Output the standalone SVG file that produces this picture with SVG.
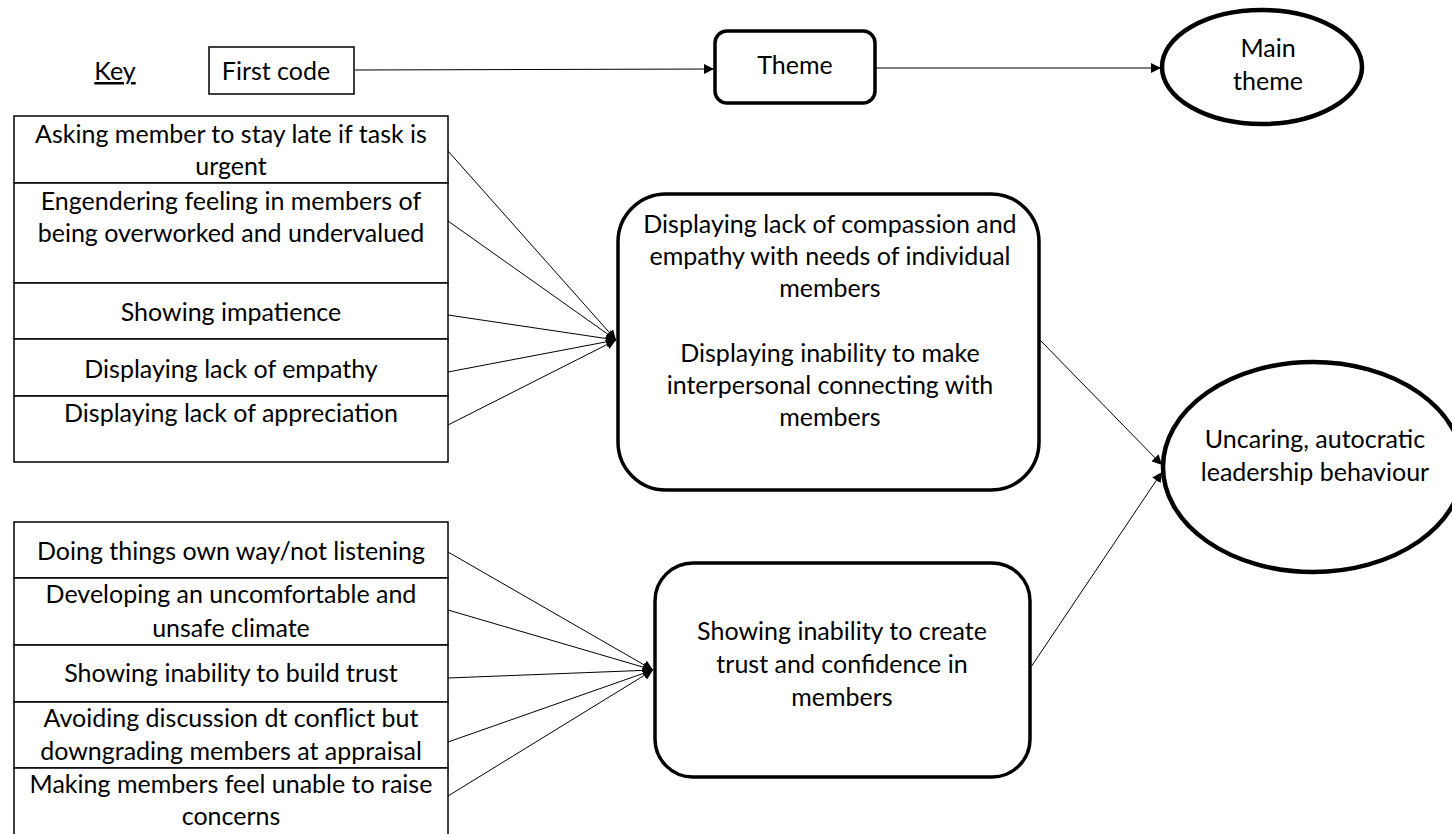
<svg xmlns="http://www.w3.org/2000/svg" width="1452" height="834" viewBox="0 0 1452 834">
  <style>
    text { font-family: Lato, "Liberation Sans", sans-serif; font-size: 25px; fill: #000; text-anchor: middle; }
    .code { fill: #fff; stroke: #000; stroke-width: 1.5; }
    .theme { fill: #fff; stroke: #000; stroke-width: 3.5; }
    .main { fill: #fff; stroke: #000; stroke-width: 4.5; }
    .link { stroke: #000; stroke-width: 1; fill: none; marker-end: url(#arrow); }
  </style>
  <defs>
    <marker id="arrow" viewBox="0 0 10 10" refX="10" refY="5" markerWidth="10" markerHeight="10" markerUnits="userSpaceOnUse" orient="auto">
      <path d="M0,0 L10,5 L0,10 Z" fill="#000"/>
    </marker>
  </defs>
  <rect width="1452" height="834" fill="#fff"/>

  <!-- legend -->
  <g id="key">
    <text x="115" y="80" text-decoration="underline">Key</text>
  </g>
  <g id="key-code">
    <rect class="code" x="209" y="47" width="145" height="47"/>
    <text x="276" y="80">First code</text>
  </g>
  <g id="key-theme">
    <rect class="theme" x="715" y="31" width="160" height="72" rx="12"/>
    <text x="795" y="74">Theme</text>
  </g>
  <g id="key-main">
    <ellipse class="main" cx="1262" cy="67" rx="100" ry="57"/>
    <text x="1268" y="57">Main</text>
    <text x="1268" y="90">theme</text>
  </g>

  <!-- first codes, upper group -->
  <g id="code-a1">
    <rect class="code" x="14" y="116" width="434" height="67"/>
    <text x="231" y="143">Asking member to stay late if task is</text>
    <text x="231" y="175">urgent</text>
  </g>
  <g id="code-a2">
    <rect class="code" x="14" y="183" width="434" height="100"/>
    <text x="231" y="210">Engendering feeling in members of</text>
    <text x="231" y="242">being overworked and undervalued</text>
  </g>
  <g id="code-a3">
    <rect class="code" x="14" y="283" width="434" height="56"/>
    <text x="231" y="321">Showing impatience</text>
  </g>
  <g id="code-a4">
    <rect class="code" x="14" y="339" width="434" height="57"/>
    <text x="231" y="378">Displaying lack of empathy</text>
  </g>
  <g id="code-a5">
    <rect class="code" x="14" y="396" width="434" height="66"/>
    <text x="231" y="422">Displaying lack of appreciation</text>
  </g>

  <!-- first codes, lower group -->
  <g id="code-b1">
    <rect class="code" x="14" y="522" width="434" height="56"/>
    <text x="231" y="560">Doing things own way/not listening</text>
  </g>
  <g id="code-b2">
    <rect class="code" x="14" y="578" width="434" height="67"/>
    <text x="231" y="603">Developing an uncomfortable and</text>
    <text x="231" y="637">unsafe climate</text>
  </g>
  <g id="code-b3">
    <rect class="code" x="14" y="645" width="434" height="57"/>
    <text x="231" y="682">Showing inability to build trust</text>
  </g>
  <g id="code-b4">
    <rect class="code" x="14" y="702" width="434" height="66"/>
    <text x="231" y="727">Avoiding discussion dt conflict but</text>
    <text x="231" y="760">downgrading members at appraisal</text>
  </g>
  <g id="code-b5">
    <rect class="code" x="14" y="768" width="434" height="80"/>
    <text x="231" y="793">Making members feel unable to raise</text>
    <text x="231" y="825">concerns</text>
  </g>

  <!-- themes -->
  <g id="theme-compassion">
    <rect class="theme" x="618" y="194" width="421" height="296" rx="48"/>
    <text x="830" y="233">Displaying lack of compassion and</text>
    <text x="830" y="265">empathy with needs of individual</text>
    <text x="830" y="297">members</text>
    <text x="830" y="362">Displaying inability to make</text>
    <text x="830" y="394">interpersonal connecting with</text>
    <text x="830" y="426">members</text>
  </g>
  <g id="theme-trust">
    <rect class="theme" x="655" y="563" width="375" height="214" rx="38"/>
    <text x="842" y="640">Showing inability to create</text>
    <text x="842" y="673">trust and confidence in</text>
    <text x="842" y="706">members</text>
  </g>

  <!-- main theme -->
  <g id="main-theme">
    <ellipse class="main" cx="1313" cy="467" rx="150" ry="105"/>
    <text x="1315" y="448">Uncaring, autocratic</text>
    <text x="1315" y="481">leadership behaviour</text>
  </g>

  <!-- connectors -->
  <g id="connectors">
    <line class="link" x1="355" y1="70" x2="714" y2="69"/>
    <line class="link" x1="876" y1="68" x2="1161" y2="68"/>

    <line class="link" x1="448" y1="151" x2="616" y2="340"/>
    <line class="link" x1="448" y1="221" x2="616" y2="340"/>
    <line class="link" x1="448" y1="315" x2="616" y2="340"/>
    <line class="link" x1="448" y1="372" x2="616" y2="340"/>
    <line class="link" x1="448" y1="425" x2="616" y2="340"/>

    <line class="link" x1="448" y1="552" x2="653" y2="670"/>
    <line class="link" x1="448" y1="610" x2="653" y2="670"/>
    <line class="link" x1="448" y1="678" x2="653" y2="670"/>
    <line class="link" x1="448" y1="742" x2="653" y2="670"/>
    <line class="link" x1="448" y1="796" x2="653" y2="670"/>

    <line class="link" x1="1040" y1="340" x2="1162" y2="465"/>
    <line class="link" x1="1031" y1="667" x2="1162" y2="472"/>
  </g>
</svg>
